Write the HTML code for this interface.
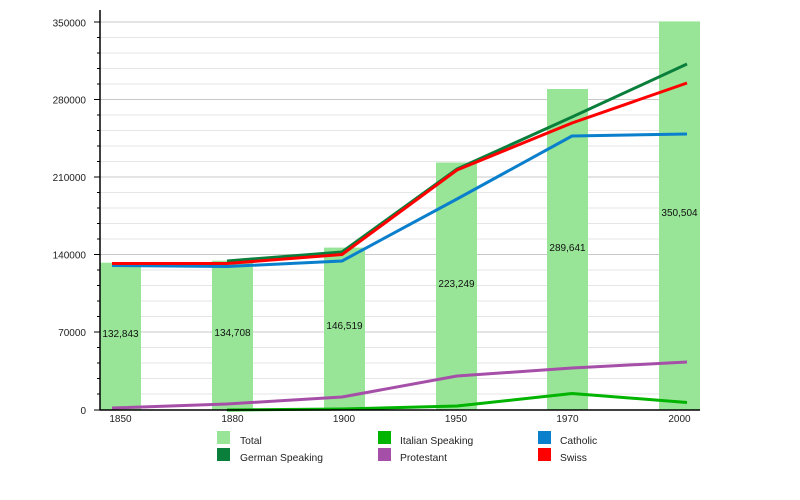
<!DOCTYPE html>
<html><head><meta charset="utf-8"><style>
html,body{margin:0;padding:0;background:#fff;}
svg{display:block;font-family:"Liberation Sans",sans-serif;}
</style></head><body>
<svg width="800" height="500" viewBox="0 0 800 500" xmlns="http://www.w3.org/2000/svg">
<rect width="800" height="500" fill="#fff"/>
<!-- minor gridlines -->
<g stroke="#e6e6e6" stroke-width="1">
<line x1="100" x2="700" y1="37.5" y2="37.5"/><line x1="100" x2="700" y1="53" y2="53"/><line x1="100" x2="700" y1="68.5" y2="68.5"/><line x1="100" x2="700" y1="84" y2="84"/>
<line x1="100" x2="700" y1="115" y2="115"/><line x1="100" x2="700" y1="130.5" y2="130.5"/><line x1="100" x2="700" y1="146" y2="146"/><line x1="100" x2="700" y1="161.5" y2="161.5"/>
<line x1="100" x2="700" y1="192.5" y2="192.5"/><line x1="100" x2="700" y1="208" y2="208"/><line x1="100" x2="700" y1="223.5" y2="223.5"/><line x1="100" x2="700" y1="239" y2="239"/>
<line x1="100" x2="700" y1="270" y2="270"/><line x1="100" x2="700" y1="285.5" y2="285.5"/><line x1="100" x2="700" y1="301" y2="301"/><line x1="100" x2="700" y1="316.5" y2="316.5"/>
<line x1="100" x2="700" y1="347.5" y2="347.5"/><line x1="100" x2="700" y1="363" y2="363"/><line x1="100" x2="700" y1="378.5" y2="378.5"/><line x1="100" x2="700" y1="394" y2="394"/>
</g>
<!-- major gridlines -->
<g stroke="#c8c8c8" stroke-width="1">
<line x1="100" x2="700" y1="22" y2="22"/><line x1="100" x2="700" y1="99.5" y2="99.5"/><line x1="100" x2="700" y1="177" y2="177"/><line x1="100" x2="700" y1="254.5" y2="254.5"/><line x1="100" x2="700" y1="332" y2="332"/>
</g>
<!-- bars -->
<g fill="#98e598">
<rect x="100" y="262.7" width="41" height="147.3"/>
<rect x="212" y="260.7" width="41" height="149.3"/>
<rect x="324" y="247.6" width="41" height="162.4"/>
<rect x="436" y="162.5" width="41" height="247.5"/>
<rect x="547" y="89" width="41" height="321"/>
<rect x="659" y="21.4" width="41" height="388.6"/>
</g>
<g font-size="10" fill="#111" text-anchor="middle">
<text x="120.5" y="337">132,843</text>
<text x="232.5" y="336">134,708</text>
<text x="344.5" y="329">146,519</text>
<text x="456.5" y="287">223,249</text>
<text x="567.5" y="251">289,641</text>
<text x="679.5" y="216">350,504</text>
</g>
<!-- lines -->
<g fill="none" stroke-width="3" stroke-linejoin="round" stroke-linecap="butt">
<polyline stroke="#0a7f3c" points="227,261 342,252 457,169 572,117 687,64"/>
<polyline stroke="#00b400" points="227,410 342,409 457,406 572,393.5 687,402.5"/>
<polyline stroke="#a54fa8" points="112,408 227,404 342,397 457,376 572,368 687,362"/>
<polyline stroke="#0a7fcc" points="112,265.5 227,266.5 342,261 457,199 572,136 687,134"/>
<polyline stroke="#ff0000" points="112,263.5 227,263.5 342,254.5 457,170 572,123 687,83"/>
</g>
<!-- axes -->
<line x1="100" x2="100" y1="10" y2="410.5" stroke="#000" stroke-width="1.5"/>
<line x1="99.5" x2="700" y1="410" y2="410" stroke="#000" stroke-width="1.5"/>
<g stroke="#000" stroke-width="1">
<line x1="94" x2="100" y1="22" y2="22"/><line x1="94" x2="100" y1="99.5" y2="99.5"/><line x1="94" x2="100" y1="177" y2="177"/><line x1="94" x2="100" y1="254.5" y2="254.5"/><line x1="94" x2="100" y1="332" y2="332"/><line x1="94" x2="100" y1="410" y2="410"/>
<line x1="97" x2="100" y1="37.5" y2="37.5"/><line x1="97" x2="100" y1="53" y2="53"/><line x1="97" x2="100" y1="68.5" y2="68.5"/><line x1="97" x2="100" y1="84" y2="84"/>
<line x1="97" x2="100" y1="115" y2="115"/><line x1="97" x2="100" y1="130.5" y2="130.5"/><line x1="97" x2="100" y1="146" y2="146"/><line x1="97" x2="100" y1="161.5" y2="161.5"/>
<line x1="97" x2="100" y1="192.5" y2="192.5"/><line x1="97" x2="100" y1="208" y2="208"/><line x1="97" x2="100" y1="223.5" y2="223.5"/><line x1="97" x2="100" y1="239" y2="239"/>
<line x1="97" x2="100" y1="270" y2="270"/><line x1="97" x2="100" y1="285.5" y2="285.5"/><line x1="97" x2="100" y1="301" y2="301"/><line x1="97" x2="100" y1="316.5" y2="316.5"/>
<line x1="97" x2="100" y1="347.5" y2="347.5"/><line x1="97" x2="100" y1="363" y2="363"/><line x1="97" x2="100" y1="378.5" y2="378.5"/><line x1="97" x2="100" y1="394" y2="394"/>
</g>
<g font-size="10" fill="#222" text-anchor="end">
<text x="86" y="26.5">350000</text>
<text x="86" y="103.5">280000</text>
<text x="86" y="181">210000</text>
<text x="86" y="258.5">140000</text>
<text x="86" y="336">70000</text>
<text x="86" y="414">0</text>
</g>
<g font-size="10" fill="#222" text-anchor="middle">
<text x="120.5" y="422">1850</text>
<text x="232.5" y="422">1880</text>
<text x="344" y="422">1900</text>
<text x="456" y="422">1950</text>
<text x="567.5" y="422">1970</text>
<text x="679.5" y="422">2000</text>
</g>
<!-- legend -->
<rect x="217" y="431" width="13" height="13" fill="#98e598"/>
<rect x="217" y="448" width="13" height="13" fill="#0a7f3c"/>
<rect x="378" y="431" width="13" height="13" fill="#00b400"/>
<rect x="378" y="448" width="13" height="13" fill="#a54fa8"/>
<rect x="538" y="431" width="13" height="13" fill="#0a7fcc"/>
<rect x="538" y="448" width="13" height="13" fill="#ff0000"/>
<g font-size="10.3" fill="#222">
<text x="240" y="444">Total</text>
<text x="240" y="461">German Speaking</text>
<text x="400" y="444">Italian Speaking</text>
<text x="400" y="461">Protestant</text>
<text x="560" y="444">Catholic</text>
<text x="560" y="461">Swiss</text>
</g>
</svg>
</body></html>
